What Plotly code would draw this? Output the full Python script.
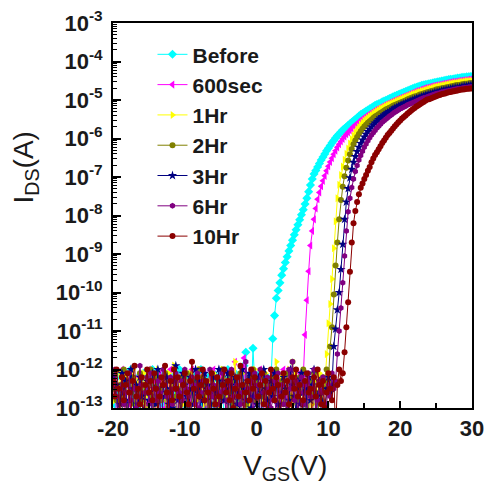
import numpy as np
import plotly.graph_objects as go

# V_GS grid (V), 0.25 V step
VGS = np.round(np.arange(-20, 30.001, 0.25), 2)

# log10(I_DS) values: off-state part then on-state part
before_off = [-12.4,-12.9,-12.2,-13.4,-12.6,-12.1,-12.8,-12.3,-13.6,-12.5,
 -12.0,-12.7,-12.4,-13.2,-12.2,-12.9,-12.5,-12.1,-13.8,-12.6,
 -12.3,-12.8,-12.0,-12.5,-13.3,-12.7,-12.2,-12.6,-12.9,-12.1,
 -13.5,-12.4,-12.8,-12.2,-12.6,-13.1,-12.3,-12.0,-12.7,-12.5,
 -13.7,-12.2,-12.9,-12.4,-12.1,-12.6,-13.2,-12.8,-12.3,-12.0,
 -12.5,-12.9,-13.4,-12.2,-12.7,-12.4,-12.1,-12.6,-13.0,-12.3,
 -12.8,-12.2,-13.6,-12.5,-12.0,-12.7,-12.4,-12.9,-12.1,-13.3,
 -12.6,-12.3,-12.8,-11.9,-11.55,-13.1,-12.2,-12.7,-11.45,-12.4,
 -12.5,-12.6,-12.1,-13.2,-12.3,-12.8,-12.2,-12.5,-12.3]
before_on = [-11.2,-10.6,-10.15,-9.95,-9.75,-9.55,-9.38,-9.22,-9.07,-8.92,
 -8.78,-8.64,-8.50,-8.37,-8.24,-8.11,-7.98,-7.85,-7.70,-7.55,
 -7.38,-7.21,-7.05,-6.92,-6.83,-6.74,-6.65,-6.56,-6.48,-6.40,
 -6.32,-6.25,-6.18,-6.11,-6.05,-5.99,-5.93,-5.88,-5.83,-5.78,
 -5.74,-5.70,-5.66,-5.62,-5.58,-5.54,-5.50,-5.46,-5.42,-5.38,
 -5.35,-5.32,-5.29,-5.26,-5.23,-5.20,-5.17,-5.14,-5.12,-5.10,
 -5.08,-5.05,-5.03,-5.01,-4.99,-4.96,-4.94,-4.92,-4.90,-4.88,
 -4.86,-4.84,-4.82,-4.80,-4.78,-4.76,-4.74,-4.72,-4.70,-4.68,
 -4.67,-4.65,-4.64,-4.62,-4.61,-4.60,-4.59,-4.58,-4.57,-4.56,
 -4.55,-4.54,-4.53,-4.52,-4.51,-4.50,-4.49,-4.48,-4.47,-4.46,
 -4.46,-4.45,-4.44,-4.43,-4.43,-4.42,-4.41,-4.41,-4.40,-4.40,
 -4.39,-4.39]

sec600_off = [-12.6,-12.2,-13.3,-12.8,-12.4,-12.0,-12.7,-13.5,-12.3,-12.9,
 -12.1,-12.5,-12.8,-13.1,-12.2,-12.6,-12.4,-13.7,-12.9,-12.3,
 -12.0,-12.7,-12.5,-12.2,-13.4,-12.8,-12.1,-12.6,-12.3,-13.0,
 -12.9,-12.4,-12.0,-12.7,-13.6,-12.5,-12.2,-12.8,-12.4,-12.1,
 -13.2,-12.6,-12.3,-12.9,-12.0,-12.5,-13.8,-12.7,-12.2,-12.4,
 -12.8,-12.1,-13.3,-12.6,-12.9,-12.3,-12.0,-12.7,-13.5,-12.4,
 -12.2,-12.8,-12.5,-13.1,-12.1,-12.6,-12.9,-12.3,-11.8,-12.7,
 -13.4,-12.2,-12.5,-11.7,-12.8,-12.4,-13.2,-12.1,-12.6,-12.3,
 -12.9,-13.6,-12.0,-12.5,-12.7,-12.2,-13.0,-12.8,-12.4,-12.1,
 -12.6,-13.3,-12.3,-12.9,-12.5,-12.0,-12.7,-13.7,-12.2,-12.6,
 -12.4,-12.8,-13.1,-12.3,-12.1,-12.5,-12.2]
sec600_on = [-11.1,-10.2,-9.45,-8.78,-8.40,-8.10,-7.82,-7.58,
 -7.40,-7.24,-7.10,-6.97,-6.84,-6.72,-6.61,-6.51,-6.41,-6.32,-6.23,-6.15,-6.08,-6.01,
 -5.95,-5.89,-5.84,-5.79,-5.74,-5.69,-5.65,-5.61,-5.57,-5.53,
 -5.49,-5.46,-5.42,-5.39,-5.36,-5.33,-5.30,-5.27,-5.24,-5.22,
 -5.19,-5.17,-5.14,-5.12,-5.10,-5.07,-5.05,-5.03,-5.01,-4.99,
 -4.97,-4.95,-4.93,-4.91,-4.89,-4.87,-4.85,-4.83,-4.81,-4.79,
 -4.77,-4.76,-4.74,-4.72,-4.71,-4.69,-4.68,-4.67,-4.65,-4.64,
 -4.63,-4.62,-4.61,-4.60,-4.59,-4.58,-4.57,-4.56,-4.55,-4.54,
 -4.53,-4.53,-4.52,-4.51,-4.50,-4.50,-4.49,-4.48,-4.48,-4.47,
 -4.47,-4.46]

hr1_off = [-12.3,-12.8,-12.5,-13.4,-12.1,-12.7,-12.9,-12.2,-13.1,-12.6,
 -12.4,-12.0,-13.6,-12.8,-12.3,-12.5,-12.9,-12.1,-12.7,-13.3,
 -12.2,-12.6,-12.4,-12.9,-13.8,-12.0,-12.5,-12.8,-12.3,-12.7,
 -13.2,-12.1,-12.6,-12.4,-11.9,-12.8,-13.5,-12.2,-12.5,-12.9,
 -12.3,-12.7,-13.0,-12.1,-12.6,-12.4,-13.7,-12.8,-12.0,-12.5,
 -12.2,-12.9,-12.6,-13.3,-12.3,-12.7,-12.1,-12.5,-13.6,-12.8,
 -12.4,-12.0,-12.7,-12.3,-13.1,-12.6,-12.9,-12.2,-11.8,-12.5,
 -13.4,-12.8,-12.1,-12.6,-12.4,-12.9,-13.2,-12.3,-12.7,-12.0,
 -12.5,-13.5,-12.2,-12.8,-12.6,-12.1,-12.9,-13.0,-12.4,-12.7,
 -12.3,-11.8,-13.7,-12.5,-12.2,-12.8,-12.6,-13.3,-12.0,-12.4,
 -12.9,-12.1,-12.7,-13.1,-12.5,-12.3,-12.8,-12.6,-13.6,-12.2,
 -12.4,-12.9,-12.3,-13.2,-12.6,-12.1,-12.5,-12.8,-12.4]
hr1_on = [-11.6,-10.8,-10.3,-9.65,-8.85,-8.15,-7.55,-7.20,-6.95,-6.73,
 -6.55,-6.40,-6.26,-6.13,-6.02,-5.92,-5.83,-5.76,-5.70,-5.64,
 -5.59,-5.54,-5.50,-5.46,-5.42,-5.39,-5.35,-5.32,-5.29,-5.26,
 -5.23,-5.21,-5.18,-5.16,-5.13,-5.11,-5.09,-5.07,-5.05,-5.03,
 -5.01,-4.99,-4.97,-4.95,-4.93,-4.91,-4.89,-4.87,-4.85,-4.84,
 -4.82,-4.80,-4.79,-4.77,-4.76,-4.74,-4.73,-4.71,-4.70,-4.69,
 -4.67,-4.66,-4.65,-4.64,-4.63,-4.62,-4.61,-4.60,-4.59,-4.58,
 -4.57,-4.56,-4.56,-4.55,-4.54,-4.53,-4.53,-4.52,-4.51,-4.51,
 -4.50,-4.50]

hr2_off = [-12.5,-12.1,-12.8,-13.2,-12.4,-12.7,-12.0,-12.9,-13.5,-12.3,
 -12.6,-12.2,-12.9,-12.5,-13.4,-12.1,-12.8,-12.4,-12.6,-13.7,
 -12.3,-12.0,-12.7,-12.9,-12.2,-13.1,-12.5,-12.8,-12.4,-12.1,
 -13.6,-12.6,-12.3,-12.9,-12.0,-12.7,-12.5,-13.3,-12.2,-12.8,
 -12.4,-12.1,-13.0,-12.6,-12.9,-12.3,-13.8,-12.5,-12.0,-12.7,
 -12.2,-12.8,-12.4,-13.2,-12.6,-12.1,-12.9,-12.5,-13.5,-12.3,
 -12.7,-12.0,-12.4,-12.8,-13.1,-12.2,-12.6,-12.9,-12.3,-13.4,
 -12.5,-12.1,-12.7,-12.4,-12.9,-13.6,-12.2,-12.6,-12.0,-12.8,
 -12.3,-13.3,-12.5,-12.7,-12.1,-12.9,-12.4,-13.0,-12.6,-12.2,
 -12.8,-12.0,-13.7,-12.5,-12.3,-12.9,-12.6,-12.1,-13.2,-12.7,
 -11.8,-12.4,-12.8,-13.5,-12.2,-12.6,-12.0,-12.9,-12.5,-13.1,
 -12.3,-12.7,-12.1,-12.6,-13.4,-12.4,-12.8,-12.2,-12.5,-12.0,
 -12.3]
hr2_on = [-11.4,-10.9,-10.05,-9.30,-8.70,-8.10,-7.60,-7.25,-6.98,-6.76,
 -6.57,-6.41,-6.27,-6.15,-6.05,-5.96,-5.88,-5.81,-5.75,-5.69,
 -5.64,-5.59,-5.55,-5.51,-5.47,-5.43,-5.40,-5.37,-5.34,-5.31,
 -5.28,-5.25,-5.23,-5.20,-5.18,-5.15,-5.13,-5.11,-5.09,-5.07,
 -5.05,-5.03,-5.01,-4.99,-4.97,-4.95,-4.93,-4.91,-4.90,-4.88,
 -4.86,-4.85,-4.83,-4.82,-4.80,-4.79,-4.77,-4.76,-4.75,-4.73,
 -4.72,-4.71,-4.70,-4.69,-4.68,-4.67,-4.66,-4.65,-4.64,-4.63,
 -4.62,-4.61,-4.61,-4.60,-4.59,-4.58,-4.58,-4.57,-4.56,-4.56]

hr3_off = [-12.2,-12.7,-12.4,-13.5,-12.9,-12.1,-12.6,-12.3,-13.2,-12.8,
 -12.0,-12.5,-13.7,-12.4,-12.9,-12.2,-12.7,-13.1,-12.6,-12.3,
 -12.8,-13.4,-12.1,-12.5,-12.9,-12.0,-12.6,-13.6,-12.4,-12.7,
 -12.2,-12.9,-12.5,-13.0,-12.3,-11.9,-12.8,-12.6,-13.3,-12.1,
 -12.4,-12.7,-13.8,-12.2,-12.5,-12.9,-12.0,-12.6,-12.3,-13.2,
 -12.8,-12.1,-12.5,-12.4,-13.5,-12.7,-12.2,-12.9,-12.6,-12.0,
 -13.1,-12.3,-12.8,-12.5,-12.1,-13.6,-12.4,-12.7,-12.2,-12.9,
 -12.6,-13.4,-12.0,-12.5,-12.8,-12.3,-12.1,-13.0,-12.7,-12.4,
 -12.9,-12.2,-13.7,-12.6,-12.0,-12.5,-12.8,-13.3,-12.3,-12.7,
 -12.1,-12.4,-12.9,-13.2,-12.6,-12.2,-12.5,-13.5,-12.8,-12.0,
 -12.4,-12.7,-13.1,-12.3,-12.9,-12.1,-12.6,-13.8,-12.5,-12.2,
 -12.8,-12.4,-12.0,-13.3,-12.7,-12.3,-12.6,-12.9,-13.0,-12.5,
 -12.2,-12.6,-12.4]
hr3_on = [-11.4,-10.95,-10.45,-10.0,-9.40,-8.75,-8.10,-7.65,-7.30,-7.02,
 -6.80,-6.62,-6.47,-6.34,-6.23,-6.13,-6.04,-5.96,-5.89,-5.82,
 -5.76,-5.70,-5.65,-5.60,-5.55,-5.51,-5.47,-5.43,-5.39,-5.36,
 -5.33,-5.30,-5.27,-5.24,-5.21,-5.19,-5.16,-5.14,-5.12,-5.10,
 -5.08,-5.06,-5.04,-5.02,-5.00,-4.98,-4.96,-4.95,-4.93,-4.91,
 -4.90,-4.88,-4.87,-4.85,-4.84,-4.83,-4.81,-4.80,-4.79,-4.78,
 -4.76,-4.75,-4.74,-4.73,-4.72,-4.71,-4.70,-4.69,-4.68,-4.68,
 -4.67,-4.66,-4.65,-4.64,-4.64,-4.63,-4.62,-4.62]

hr6_off = [-12.4,-12.0,-12.7,-13.3,-12.5,-12.2,-12.9,-12.6,-13.6,-12.1,
 -12.8,-12.3,-12.5,-13.0,-12.7,-11.9,-12.4,-13.5,-12.6,-12.2,
 -12.9,-12.1,-13.2,-12.5,-12.8,-12.3,-12.6,-13.7,-12.0,-12.4,
 -12.7,-13.1,-12.2,-12.9,-12.5,-12.1,-13.4,-12.6,-12.3,-12.8,
 -12.0,-12.5,-12.7,-13.6,-12.2,-12.4,-12.9,-12.1,-13.0,-12.6,
 -12.3,-12.8,-13.3,-12.5,-12.0,-12.7,-12.4,-13.8,-12.2,-12.9,
 -12.6,-12.1,-12.5,-13.2,-12.8,-12.3,-12.0,-12.7,-13.5,-12.4,
 -12.2,-12.9,-12.6,-13.1,-11.8,-12.5,-12.8,-12.3,-13.4,-12.1,
 -12.7,-12.4,-12.0,-13.7,-12.6,-12.9,-12.2,-12.5,-13.0,-12.8,
 -12.3,-13.6,-12.1,-12.7,-12.4,-12.9,-12.6,-13.2,-12.0,-12.5,
 -11.8,-12.8,-12.3,-13.3,-12.6,-12.2,-12.9,-12.4,-13.5,-12.1,
 -12.7,-12.5,-12.0,-13.1,-12.8,-12.3,-12.6,-12.2,-13.4,-12.9,
 -12.4,-12.7,-12.1,-12.5,-12.3]
hr6_on = [-11.6,-11.0,-10.4,-9.75,-9.05,-8.40,-7.90,-7.55,-7.27,-7.05,
 -6.86,-6.70,-6.56,-6.44,-6.33,-6.23,-6.14,-6.06,-5.98,-5.91,
 -5.85,-5.79,-5.73,-5.68,-5.63,-5.58,-5.54,-5.50,-5.46,-5.42,
 -5.39,-5.35,-5.32,-5.29,-5.26,-5.23,-5.21,-5.18,-5.16,-5.13,
 -5.11,-5.09,-5.07,-5.05,-5.03,-5.01,-4.99,-4.97,-4.95,-4.94,
 -4.92,-4.90,-4.89,-4.87,-4.86,-4.84,-4.83,-4.82,-4.80,-4.79,
 -4.78,-4.77,-4.76,-4.75,-4.74,-4.73,-4.72,-4.71,-4.71,-4.70,
 -4.69,-4.68,-4.68,-4.67,-4.66,-4.66]

hr10_off = [-12.3,-12.7,-12.0,-12.5,-13.4,-12.2,-12.8,-12.4,-12.1,-12.6,
 -13.2,-12.3,-11.9,-12.7,-12.5,-12.9,-12.2,-13.6,-12.4,-12.0,
 -12.6,-12.3,-12.8,-12.1,-12.5,-13.1,-12.7,-12.2,-12.4,-11.9,
 -12.6,-13.5,-12.3,-12.8,-12.0,-12.5,-12.2,-12.7,-13.3,-12.4,
 -12.1,-12.6,-12.9,-12.3,-11.8,-12.5,-13.7,-12.2,-12.7,-12.4,
 -12.0,-12.8,-12.3,-12.6,-13.2,-12.1,-12.5,-12.9,-12.2,-12.7,
 -13.4,-12.4,-12.0,-12.6,-12.3,-12.8,-12.1,-13.0,-12.5,-12.2,
 -12.7,-11.9,-12.4,-13.6,-12.6,-12.3,-12.8,-12.0,-12.5,-12.2,
 -13.1,-12.7,-12.4,-12.1,-12.9,-12.3,-13.5,-12.6,-12.0,-12.5,
 -12.8,-12.2,-12.4,-13.3,-12.7,-12.1,-12.6,-12.3,-12.9,-13.8,
 -12.2,-12.5,-12.0,-12.7,-12.4,-13.2,-12.8,-12.3,-12.1,-12.6,
 -12.5,-13.4,-12.2,-12.7,-12.0,-12.4,-12.9,-12.3,-13.0,-12.6,
 -12.1,-12.5,-12.8,-12.2,-13.6,-12.4,-12.0,-12.3]
hr10_on = [-12.1,-11.55,-10.9,-10.25,-9.46,-8.70,-8.20,-7.88,-7.65,-7.45,
 -7.28,-7.17,-7.05,-6.95,-6.84,-6.74,-6.62,-6.52,-6.43,-6.36,
 -6.28,-6.20,-6.12,-6.05,-5.98,-5.91,-5.86,-5.80,-5.74,-5.68,
 -5.63,-5.58,-5.53,-5.48,-5.44,-5.40,-5.36,-5.32,-5.28,-5.24,
 -5.21,-5.17,-5.14,-5.11,-5.08,-5.05,-5.02,-4.99,-4.98,-4.96,
 -4.94,-4.92,-4.90,-4.88,-4.87,-4.85,-4.84,-4.83,-4.81,-4.80,
 -4.79,-4.78,-4.77,-4.76,-4.75,-4.74,-4.73,-4.73,-4.72,-4.71,
 -4.71,-4.70,-4.70]

SERIES = ["Before", "600sec", "1Hr", "2Hr", "3Hr", "6Hr", "10Hr"]
LOG_I = [before_off + before_on, sec600_off + sec600_on, hr1_off + hr1_on,
         hr2_off + hr2_on, hr3_off + hr3_on, hr6_off + hr6_on, hr10_off + hr10_on]
COLORS = ["#00FFFF", "#FF00FF", "#FFFF00", "#808000", "#000080", "#800080", "#8B0000"]
SYMBOLS = ["diamond", "triangle-left", "triangle-right", "circle", "star", "hexagon", "circle"]
SIZES = [7, 7, 7, 6, 7, 6, 6]

Y_TICK_EXP = list(range(-3, -14, -1))
X_TICKS = [-20, -10, 0, 10, 20, 30]
X_TICK_TEXT = ["-20", "-10", "0", "10", "20", "30"]

fig = go.Figure()
for name, logi, col, sym, sz in zip(SERIES, LOG_I, COLORS, SYMBOLS, SIZES):
    assert len(logi) == len(VGS), (name, len(logi))
    fig.add_trace(go.Scatter(
        x=VGS, y=np.power(10.0, np.array(logi)), name=name, mode="lines+markers",
        line=dict(color=col, width=1),
        marker=dict(color=col, symbol=sym, size=sz, line=dict(width=0)),
        cliponaxis=True,
    ))

FONT = "Liberation Sans, Arial"
tickfont = dict(family=FONT, size=22, color="#1a1a1a", weight="bold")
fig.update_layout(
    template="none",
    width=489, height=487,
    margin=dict(l=113, r=17, t=23, b=79, pad=0, autoexpand=False),
    paper_bgcolor="white", plot_bgcolor="white",
    showlegend=True,
    legend=dict(x=0.11, y=0.971, xanchor="left", yanchor="top",
                bgcolor="rgba(0,0,0,0)", borderwidth=0,
                font=dict(family=FONT, size=21, color="#1a1a1a", weight="bold"),
                itemsizing="trace", tracegroupgap=0),
    xaxis=dict(range=[-20, 30], tickvals=X_TICKS, ticktext=X_TICK_TEXT,
               ticks="inside", ticklen=7, tickwidth=2,
               tickcolor="black", showline=True, linewidth=2, linecolor="black",
               mirror=True, showgrid=False, zeroline=False, tickfont=tickfont,
               automargin=False,
               minor=dict(ticks="inside", ticklen=5, tickwidth=1.5, tickcolor="black",
                          dtick=5, showgrid=False)),
    yaxis=dict(type="log", range=[-13, -3],
               tickvals=[10.0 ** e for e in Y_TICK_EXP],
               ticktext=["10<sup>%d</sup>" % e for e in Y_TICK_EXP],
               ticks="inside", ticklen=8, tickwidth=2, tickcolor="black",
               showline=True, linewidth=2, linecolor="black", mirror=True,
               showgrid=False, zeroline=False, tickfont=tickfont, ticklabelstandoff=4,
               automargin=False,
               minor=dict(ticks="inside", ticklen=4, tickwidth=1, tickcolor="black",
                          dtick="D1", showgrid=False)),
    annotations=[
        dict(text="V<sub>GS</sub>(V)", xref="paper", yref="paper", x=0.48, y=-0.105,
             xanchor="center", yanchor="top", showarrow=False,
             font=dict(family=FONT, size=28, color="#1a1a1a")),
        dict(text="I<sub>DS</sub>(A)", xref="paper", yref="paper", x=-0.245, y=0.625,
             xanchor="center", yanchor="middle", showarrow=False, textangle=-90,
             font=dict(family=FONT, size=28, color="#1a1a1a")),
    ],
)
fig.write_html("out.html", config={"displayModeBar": False},
               post_script="document.body.style.margin='0px';")
